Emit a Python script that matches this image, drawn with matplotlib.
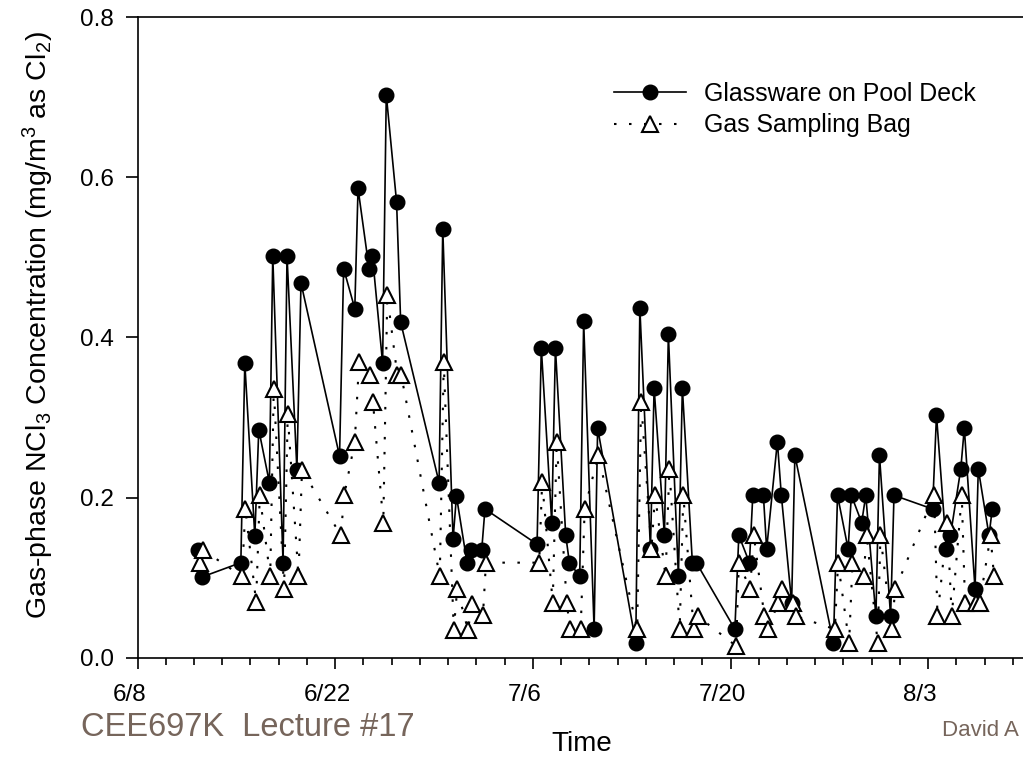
import matplotlib
matplotlib.use("Agg")
import matplotlib.pyplot as plt
from matplotlib.transforms import ScaledTranslation
from matplotlib.ticker import MultipleLocator, FormatStrFormatter

plt.rcParams['font.family'] = ['Liberation Sans', 'DejaVu Sans']
plt.rcParams['mathtext.default'] = 'regular'

# days after 6/8
glass_day = [4.30, 4.55, 7.32, 7.60, 8.31, 8.59, 9.34, 9.58, 10.31, 10.59,
             11.29, 11.58, 14.31, 14.60, 15.39, 15.62, 16.40, 16.64, 17.36, 17.62,
             18.35, 18.64, 21.36, 21.62, 22.35, 22.59, 23.34, 23.60, 24.38, 24.61,
             28.30, 28.60, 29.34, 29.60, 30.33, 30.59, 31.32, 31.60, 32.34, 32.59,
             35.29, 35.58, 36.33, 36.59, 37.32, 37.60, 38.31, 38.59, 39.30, 39.58,
             42.31, 42.59, 43.34, 43.58, 44.33, 44.56, 45.32, 45.60, 46.33, 46.56,
             49.29, 49.58, 50.33, 50.56, 51.29, 51.58, 52.30, 52.55, 53.34, 53.58,
             56.31, 56.59, 57.29, 57.58, 58.31, 58.56, 59.32, 59.55, 60.31, 60.54]
glass_val = [0.135, 0.101, 0.119, 0.368, 0.152, 0.285, 0.219, 0.502, 0.119, 0.502,
             0.235, 0.468, 0.252, 0.486, 0.436, 0.586, 0.486, 0.502, 0.368, 0.703,
             0.569, 0.419, 0.219, 0.536, 0.148, 0.202, 0.119, 0.135, 0.135, 0.186,
             0.142, 0.387, 0.169, 0.387, 0.153, 0.119, 0.102, 0.420, 0.036, 0.287,
             0.019, 0.437, 0.136, 0.337, 0.153, 0.404, 0.102, 0.337, 0.119, 0.119,
             0.036, 0.153, 0.119, 0.203, 0.203, 0.136, 0.270, 0.203, 0.069, 0.253,
             0.019, 0.203, 0.136, 0.203, 0.169, 0.203, 0.052, 0.253, 0.052, 0.203,
             0.186, 0.303, 0.136, 0.153, 0.236, 0.287, 0.086, 0.236, 0.153, 0.186]

bag_day = [4.40, 4.62, 7.40, 7.64, 8.40, 8.66, 9.40, 9.65, 10.38, 10.64,
           11.40, 11.65, 14.40, 14.64, 15.39, 15.69, 16.45, 16.68, 17.41, 17.69,
           18.40, 18.68, 21.41, 21.69, 22.40, 22.64, 23.41, 23.69, 24.47, 24.68,
           28.45, 28.66, 29.41, 29.69, 30.40, 30.64, 31.39, 31.67, 32.64,
           35.39, 35.67, 36.40, 36.66, 37.40, 37.67, 38.40, 38.66, 39.39, 39.69,
           42.40, 42.59, 43.39, 43.65, 44.40, 44.64, 45.39, 45.65, 46.40, 46.64,
           49.39, 49.62, 50.40, 50.64, 51.42, 51.65, 52.42, 52.62, 53.41, 53.67,
           56.42, 56.66, 57.36, 57.67, 58.38, 58.61, 59.36, 59.65, 60.42, 60.66]
bag_val = [0.119, 0.135, 0.102, 0.186, 0.070, 0.203, 0.102, 0.336, 0.086, 0.304,
           0.102, 0.235, 0.153, 0.203, 0.270, 0.369, 0.353, 0.319, 0.169, 0.453,
           0.353, 0.353, 0.102, 0.369, 0.035, 0.086, 0.035, 0.068, 0.054, 0.119,
           0.119, 0.220, 0.069, 0.270, 0.069, 0.036, 0.036, 0.186, 0.253,
           0.036, 0.320, 0.136, 0.203, 0.102, 0.236, 0.036, 0.203, 0.036, 0.052,
           0.015, 0.119, 0.086, 0.153, 0.052, 0.036, 0.069, 0.086, 0.069, 0.052,
           0.036, 0.119, 0.019, 0.119, 0.102, 0.153, 0.019, 0.153, 0.036, 0.086,
           0.203, 0.052, 0.169, 0.052, 0.203, 0.069, 0.069, 0.069, 0.153, 0.102]

tick_days = [0, 14, 28, 42, 56]
tick_names = ['6/8', '6/22', '7/6', '7/20', '8/3']

fig = plt.figure(figsize=(10.23, 7.6), dpi=100)
# right edge of the axes runs just past the slide edge
ax = fig.add_axes([137.5 / 1023, 1 - 658 / 760, 889.5 / 1023, 641 / 760])

ax.plot(glass_day, glass_val, '-', color='black', lw=1.2, marker='o', ms=10.5,
        mfc='black', mec='black', label='Glassware on Pool Deck', zorder=3)
ax.plot(bag_day, bag_val, color='black', lw=1.5, ls=(0, (1.2, 6)), marker='^',
        ms=12, mfc='white', mec='black', mew=1.5, label='Gas Sampling Bag', zorder=4)

ax.set_xlim(0, 63)
ax.set_ylim(0, 0.8)
ax.set_xticks(tick_days)
ax.set_xticklabels(tick_names)
ax.xaxis.set_minor_locator(MultipleLocator(2))
ax.yaxis.set_major_locator(MultipleLocator(0.2))
ax.yaxis.set_major_formatter(FormatStrFormatter('%.1f'))
ax.tick_params(axis='x', which='major', direction='out', length=8, width=1.2,
               labelsize=17.5, pad=11)
ax.tick_params(axis='x', which='minor', direction='out', length=5, width=1.2)
ax.tick_params(axis='y', direction='out', length=9, width=1.2, labelsize=17.5, pad=8)
for lab in ax.get_xticklabels():
    lab.set_transform(lab.get_transform() + ScaledTranslation(-0.08, 0, fig.dpi_scale_trans))
for s in ax.spines.values():
    s.set_linewidth(1.2)
ax.spines['right'].set_visible(False)

ax.set_ylabel('Gas-phase NCl$_3$ Concentration (mg/m$^3$ as Cl$_2$)', fontsize=20.5)
ax.yaxis.set_label_coords(-0.092, 0.52)
ax.set_xlabel('Time', fontsize=20, labelpad=18)

ax.legend(loc='upper left', bbox_to_anchor=(614 / 1023, 1 - 82 / 760),
          bbox_transform=fig.transFigure, frameon=False, fontsize=17.9,
          handlelength=2.9, handletextpad=0.72, labelspacing=0.3,
          borderpad=0, borderaxespad=0)

brown = '#76655b'
fig.text(81 / 1023, 1 - 728 / 760, 'CEE697K  Lecture #17', color=brown,
         fontsize=23.5, va='center', ha='left')
fig.text(942 / 1023, 1 - 730 / 760, 'David A', color=brown,
         fontsize=16, va='center', ha='left')

fig.savefig('out.png', dpi=100)
